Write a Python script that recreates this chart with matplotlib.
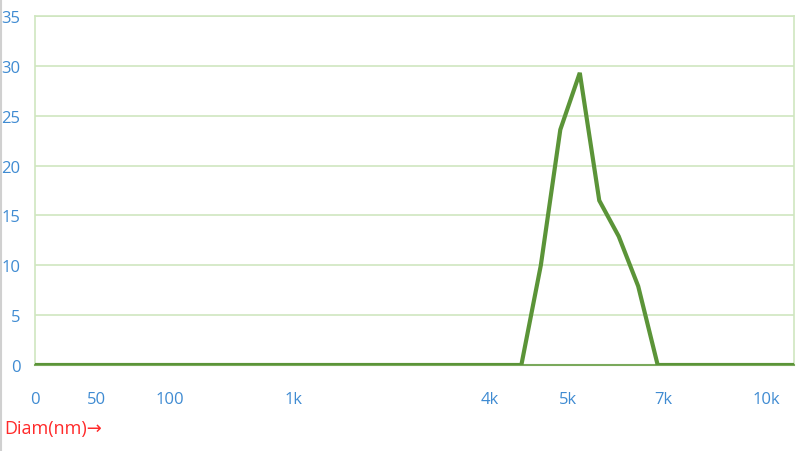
import matplotlib
matplotlib.use("Agg")
import matplotlib.pyplot as plt
from matplotlib.lines import Line2D

# Data (index positions along the size-class axis)
values = [0]*26 + [10, 23.6, 29.3, 16.5, 12.9, 7.9] + [0]*8
tick_labels = ["0", "50", "100", "1k", "4k", "5k", "7k", "10k"]
tick_positions = [0, 3.2, 6.95, 13.3, 23.4, 27.4, 32.3, 37.6]
y_ticks = [0, 5, 10, 15, 20, 25, 30, 35]

W, H = 798, 452
fig = plt.figure(figsize=(W/100, H/100), dpi=100)
left, right, top, bottom = 34.5, 794, 17, 366
ax = fig.add_axes([left/W, 1-bottom/H, (right-left)/W, (bottom-top)/H])

plt.rcParams['font.family'] = ['Open Sans', 'DejaVu Sans']
fam = ['Open Sans', 'DejaVu Sans']
tick_color = "#3f8bd2"
grid_color = "#cfe6c0"
line_color = "#5b9438"

ax.plot(range(len(values)), values, color=line_color, lw=3.0, solid_joinstyle='miter', zorder=3)
ax.set_xlim(0, len(values)-1)
ax.set_ylim(0, 35)
ax.set_yticks(y_ticks)
ax.set_yticklabels([str(v) for v in y_ticks], color=tick_color, fontsize=12, family=fam)
ax.set_xticks(tick_positions)
ax.set_xticklabels(tick_labels, color=tick_color, fontsize=12, family=fam)
ax.tick_params(axis='both', length=0)
ax.tick_params(axis='y', pad=10)
ax.tick_params(axis='x', pad=18.5)
ax.yaxis.grid(True, color=grid_color, lw=1.2)
ax.set_axisbelow(True)
for s in ['left', 'right', 'top']:
    ax.spines[s].set_color(grid_color)
    ax.spines[s].set_linewidth(1.2)
ax.spines['bottom'].set_color("#7aa95c")
ax.spines['bottom'].set_linewidth(1.5)

fig.text(4/W, 1-429/H, "Diam(nm)→", color="#ff2a2a", fontsize=13, va='center', ha='left',
         family=fam)
fig.add_artist(Line2D([0.5/W, 0.5/W], [0, 1], color="#d0d0d0", lw=1.5, transform=fig.transFigure))

fig.savefig("out.png", dpi=100)
